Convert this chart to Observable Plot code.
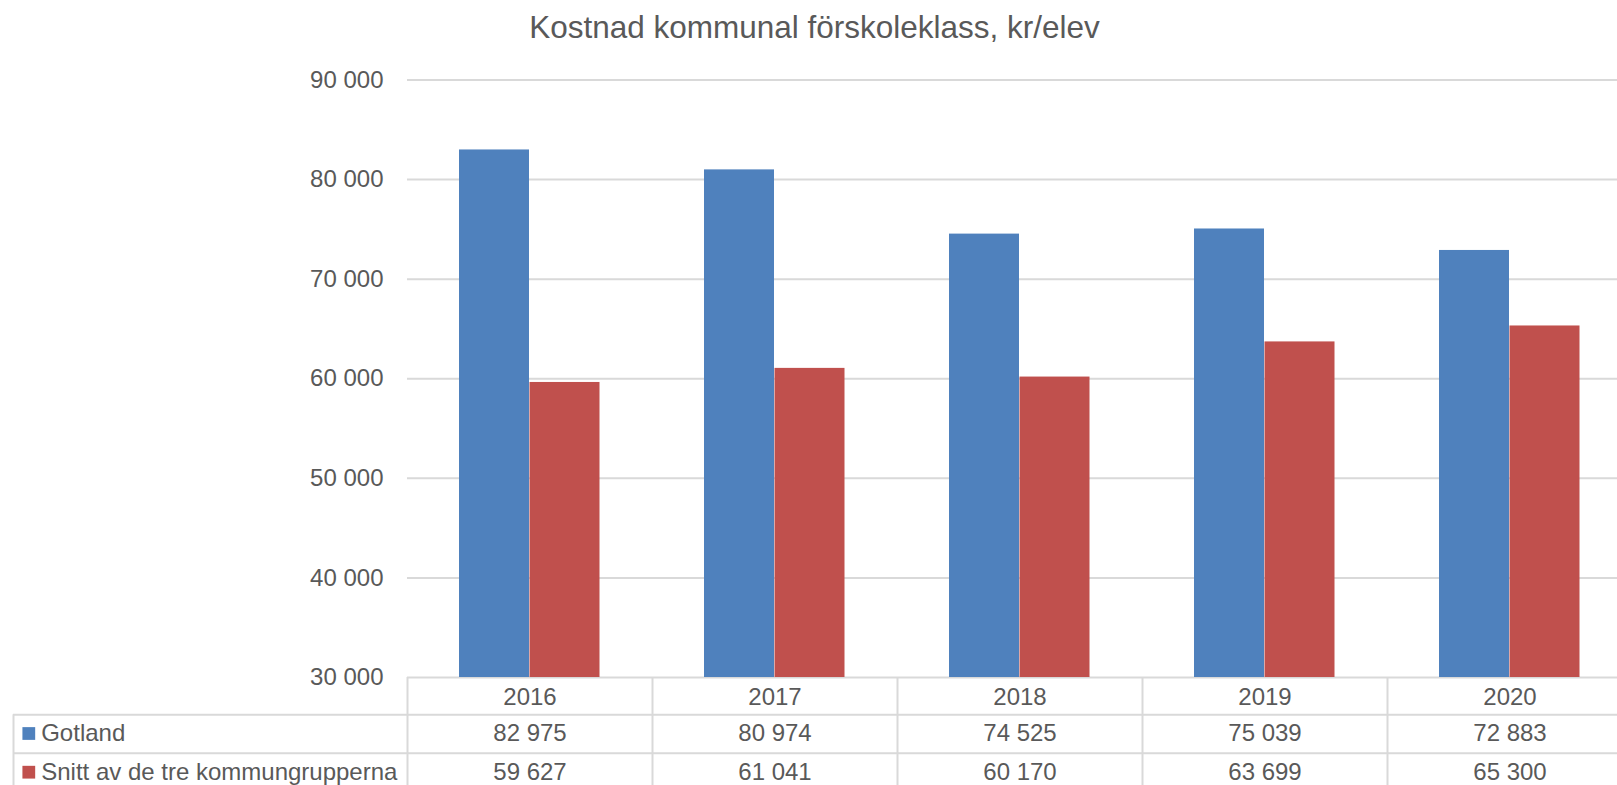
<!DOCTYPE html>
<html>
<head>
<meta charset="utf-8">
<script src="https://cdn.jsdelivr.net/npm/d3@7"></script>
<script src="https://cdn.jsdelivr.net/npm/@observablehq/plot@0.6"></script>
<style>
  html, body { margin: 0; padding: 0; overflow: hidden; background: #fff; width: 1617px; }
  #title {
    height: 56px; box-sizing: border-box; padding-top: 12px;
    width: 1630px; max-width: 1617px; text-align: center;
    font-family: "Liberation Sans", Arial, sans-serif; font-size: 31.5px; line-height: 1;
    color: #595959; white-space: nowrap;
  }
  #title span { display: inline-block; position: relative; left: 6px; }
  #chart { width: 1617px; overflow: hidden; }
  #chart svg { display: block; }
</style>
</head>
<body>
<div id="title"><span>Kostnad kommunal förskoleklass, kr/elev</span></div>
<div id="chart"></div>
<script>
// ---- data ----
const years = ["2016", "2017", "2018", "2019", "2020"];
const gotland = [82975, 80974, 74525, 75039, 72883];
const snitt = [59627, 61041, 60170, 63699, 65300];
const seriesNames = ["Gotland", "Snitt av de tre kommungrupperna"];
const seriesColors = ["#4F81BD", "#C0504D"];
const yTicks = [30000, 40000, 50000, 60000, 70000, 80000, 90000];

const rows = years.map((year, i) => ({year, gotland: gotland[i], snitt: snitt[i]}));
const fmt = (v) => d3.format(",")(v).replace(/,/g, " ");

// ---- layout ----
const width = 1617, height = 740;
const marginLeft = 407, marginRight = -15, marginTop = 23.5, marginBottom = 119;
const frameH = height - marginTop - marginBottom;
const bw = (width - marginLeft - marginRight) / years.length;
const tableLeft = 13;
const row1 = 37.3, row2 = 75.8;          // bottom of header row, bottom of first data row
const dyRowA = 56, dyRowB = 94.7;        // text centres of the two data rows
const lineColor = "#d9d9d9";
const yMin = yTicks[0], yMax = yTicks[yTicks.length - 1];

const marks = [
  Plot.gridY(yTicks, {stroke: lineColor, strokeOpacity: 1, strokeWidth: 2}),
  Plot.axisY(yTicks, {tickSize: 0, tickPadding: 24, tickFormat: fmt, label: null}),
  Plot.axisX({tickSize: 0, tickPadding: 10, label: null}),
  Plot.barY(rows, {x: "year", y1: yMin, y2: "gotland", fill: seriesColors[0], insetLeft: 52, insetRight: 123}),
  Plot.barY(rows, {x: "year", y1: yMin, y2: "snitt", fill: seriesColors[1], insetLeft: 122.5, insetRight: 52.5}),
  // data table grid
  Plot.ruleX(years, {x: d => d, dx: -bw / 2, insetTop: frameH, insetBottom: -marginBottom, stroke: lineColor, strokeWidth: 2}),
  Plot.ruleX([years[0]], {x: d => d, dx: -bw / 2 - (marginLeft - tableLeft), insetTop: frameH + row1, insetBottom: -marginBottom, stroke: lineColor, strokeWidth: 2}),
  Plot.ruleY([yMin], {dy: row1, insetLeft: -(marginLeft - tableLeft), stroke: lineColor, strokeWidth: 2}),
  Plot.ruleY([yMin], {dy: row2, insetLeft: -(marginLeft - tableLeft), stroke: lineColor, strokeWidth: 2}),
  // table values
  Plot.text(rows, {x: "year", text: d => fmt(d.gotland), frameAnchor: "bottom", lineAnchor: "middle", dy: dyRowA}),
  Plot.text(rows, {x: "year", text: d => fmt(d.snitt), frameAnchor: "bottom", lineAnchor: "middle", dy: dyRowB}),
];
[dyRowA, dyRowB].forEach((dy, i) => {
  marks.push(Plot.dot([seriesNames[i]], {frameAnchor: "bottom-left", dx: -378.7, dy, symbol: "square", r: 7.2, fill: seriesColors[i], stroke: "none"}));
  marks.push(Plot.text([seriesNames[i]], {text: d => d, frameAnchor: "bottom-left", textAnchor: "start", lineAnchor: "middle", dx: -366.3, dy}));
});

const chart = Plot.plot({
  width, height, marginLeft, marginRight, marginTop, marginBottom,
  style: {fontFamily: "'Liberation Sans', Arial, sans-serif", fontSize: "24px", color: "#595959", background: "#fff", overflow: "hidden"},
  x: {domain: years, padding: 0, label: null},
  y: {domain: [yMin, yMax], label: null},
  marks
});
document.getElementById("chart").appendChild(chart);
</script>
</body>
</html>
